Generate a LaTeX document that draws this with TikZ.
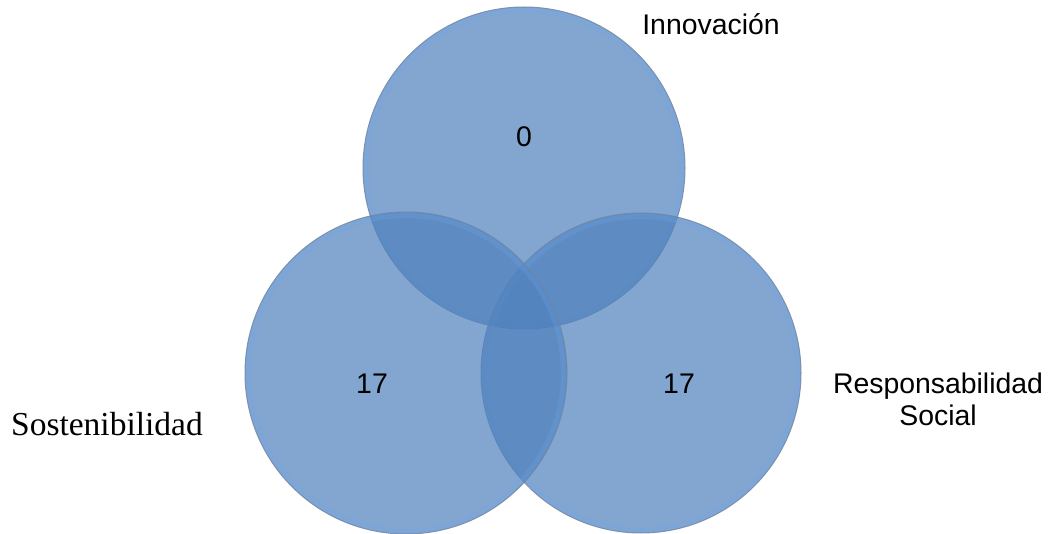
\documentclass[tikz,border=0pt]{standalone}
\usepackage{fontspec}
\setmainfont{Liberation Serif}
\newfontfamily\arialf{Liberation Sans}
\definecolor{vennblue}{RGB}{79,129,189}
\definecolor{vennedge}{RGB}{115,135,165}
\definecolor{vennglow}{RGB}{110,165,235}
\begin{document}
\begin{tikzpicture}[x=1pt,y=-1pt,
  venn/.style={fill=vennblue,fill opacity=0.7,draw=vennedge,draw opacity=0.85,line width=1pt},
  bevel/.style={draw=vennglow,draw opacity=0.25,line width=5pt},
  sanslabel/.style={font=\arialf\fontsize{28.4}{32}\selectfont,text=black,inner sep=0pt,anchor=base},
  seriflabel/.style={font=\fontsize{33.5}{38}\selectfont,text=black,inner sep=0pt,anchor=base}]
\useasboundingbox (0,0) rectangle (1052,534);
\fill[white] (0,0) rectangle (1052,534);
\draw[venn] (524,168) circle (161);
\draw[bevel] (524,168) circle (157.5);
\draw[venn] (641,373) circle (160);
\draw[bevel] (641,373) circle (156.5);
\draw[venn] (406,373) circle (161);
\draw[bevel] (406,373) circle (157.5);
\node[sanslabel] (n0) at (524,147) {0};
\node[sanslabel] (nl) at (372,393) {17};
\node[sanslabel] (nr) at (679,393) {17};
\node[sanslabel] (inn) at (711,35) {Innovación};
\node[seriflabel] (sos) at (107,435) {Sostenibilidad};
\node[sanslabel,align=center,anchor=base] (res) at (938,425) {Responsabilidad\\Social};
\end{tikzpicture}
\end{document}
